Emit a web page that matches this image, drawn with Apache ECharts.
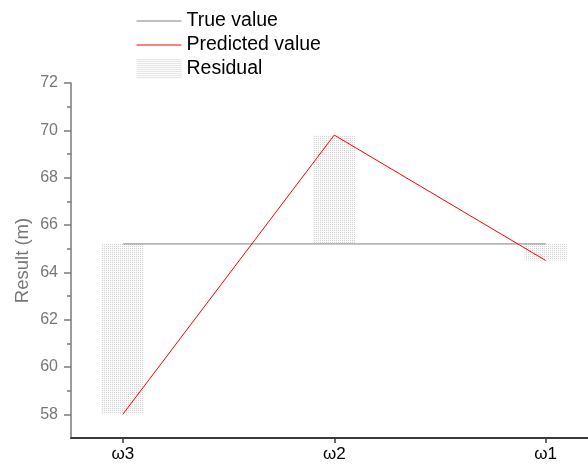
<!DOCTYPE html>
<html><head><meta charset="utf-8">
<script src="https://cdn.jsdelivr.net/npm/echarts@6/dist/echarts.min.js"></script>
<style>html,body{margin:0;padding:0;background:#fff}#c{width:588px;height:465px}</style>
</head><body><div id="c"></div>
<script>
var categories = ['ω3', 'ω2', 'ω1'];
var trueValues = [65.2, 65.2, 65.2];
var predictedValues = [58.0, 69.8, 64.5];
var yMajorTicks = [58, 60, 62, 64, 66, 68, 70, 72];
var yMinorTicks = [59, 61, 63, 65, 67, 69, 71];

var pc = document.createElement('canvas');
pc.width = 2; pc.height = 2;
var pctx = pc.getContext('2d');
pctx.fillStyle = '#fbfbfb'; pctx.fillRect(0, 0, 2, 2);
pctx.fillStyle = '#d4d4d4'; pctx.fillRect(0, 0, 1, 1);
var pattern = { image: pc, repeat: 'repeat' };

var FONT = 'Arial, "Liberation Sans", sans-serif';
var idx = categories.map(function (c, i) { return i; });
var trueData = idx.map(function (i) { return [i, trueValues[i]]; });
var predData = idx.map(function (i) { return [i, predictedValues[i]]; });
var resData = idx.map(function (i) { return [i, trueValues[i], predictedValues[i]]; });

var chart = echarts.init(document.getElementById('c'), null, { renderer: 'canvas' });
chart.setOption({
  animation: false,
  backgroundColor: '#fff',
  textStyle: { fontFamily: FONT },
  grid: { left: 71, right: 0, top: 83, bottom: 27 },
  legend: {
    orient: 'vertical', left: 136, top: 11, padding: 0,
    itemWidth: 45, itemHeight: 20, itemGap: 4,
    textStyle: { fontSize: 19.5, lineHeight: 20, color: '#000', fontFamily: FONT, padding: [0, 0, 0, 0] },
    data: [
      { name: 'True value', itemStyle: { opacity: 0 }, lineStyle: { width: 1 } },
      { name: 'Predicted value', itemStyle: { opacity: 0 }, lineStyle: { width: 1 } },
      { name: 'Residual', icon: 'rect' }
    ]
  },
  xAxis: {
    type: 'value', min: -0.245, max: 2.2,
    splitLine: { show: false },
    axisLine: { show: true, onZero: false, lineStyle: { color: '#3a3a3a', width: 2 } },
    axisTick: { show: true, length: 5, customValues: idx, lineStyle: { color: '#3a3a3a', width: 1.5 } },
    axisLabel: {
      customValues: idx, fontSize: 17, color: '#000', margin: 8, fontFamily: FONT,
      formatter: function (v) { return categories[Math.round(v)]; }
    }
  },
  yAxis: [{
    type: 'value', min: 57, max: 72,
    name: 'Result (m)', nameLocation: 'middle', nameGap: 39, nameMoveOverlap: false,
    nameTextStyle: { fontSize: 18.5, color: '#777', fontFamily: FONT },
    splitLine: { show: false },
    axisLine: { show: true, onZero: false, lineStyle: { color: '#7a7a7a', width: 1.5 } },
    axisTick: { show: true, length: 7, customValues: yMajorTicks, lineStyle: { color: '#7a7a7a', width: 1.5 } },
    axisLabel: { customValues: yMajorTicks, fontSize: 16, color: '#777', margin: 13, fontFamily: FONT }
  }, {
    type: 'value', min: 57, max: 72, position: 'left',
    splitLine: { show: false },
    axisLine: { show: false, onZero: false },
    axisTick: { show: true, length: 4, customValues: yMinorTicks, lineStyle: { color: '#7a7a7a', width: 1.5 } },
    axisLabel: { show: false }
  }],
  series: [{
    name: 'Residual', type: 'custom', yAxisIndex: 0,
    itemStyle: { color: pattern },
    data: resData,
    renderItem: function (params, api) {
      var x = api.value(0);
      var p1 = api.coord([x, api.value(1)]);
      var p2 = api.coord([x, api.value(2)]);
      var w = api.size([0.2, 0])[0];
      var top = Math.min(p1[1], p2[1]);
      return {
        type: 'rect',
        shape: { x: p1[0] - w / 2, y: top, width: w, height: Math.abs(p1[1] - p2[1]) },
        style: { fill: pattern }
      };
    },
    z: 1
  }, {
    name: 'True value', type: 'line', symbol: 'circle', symbolSize: 0, showSymbol: false,
    data: trueData, lineStyle: { color: '#808080', width: 1 }, itemStyle: { color: '#808080' }, z: 3
  }, {
    name: 'Predicted value', type: 'line', symbol: 'circle', symbolSize: 0, showSymbol: false,
    data: predData, lineStyle: { color: '#ff0000', width: 1 }, itemStyle: { color: '#ff0000' }, z: 4
  }]
});
</script></body></html>
